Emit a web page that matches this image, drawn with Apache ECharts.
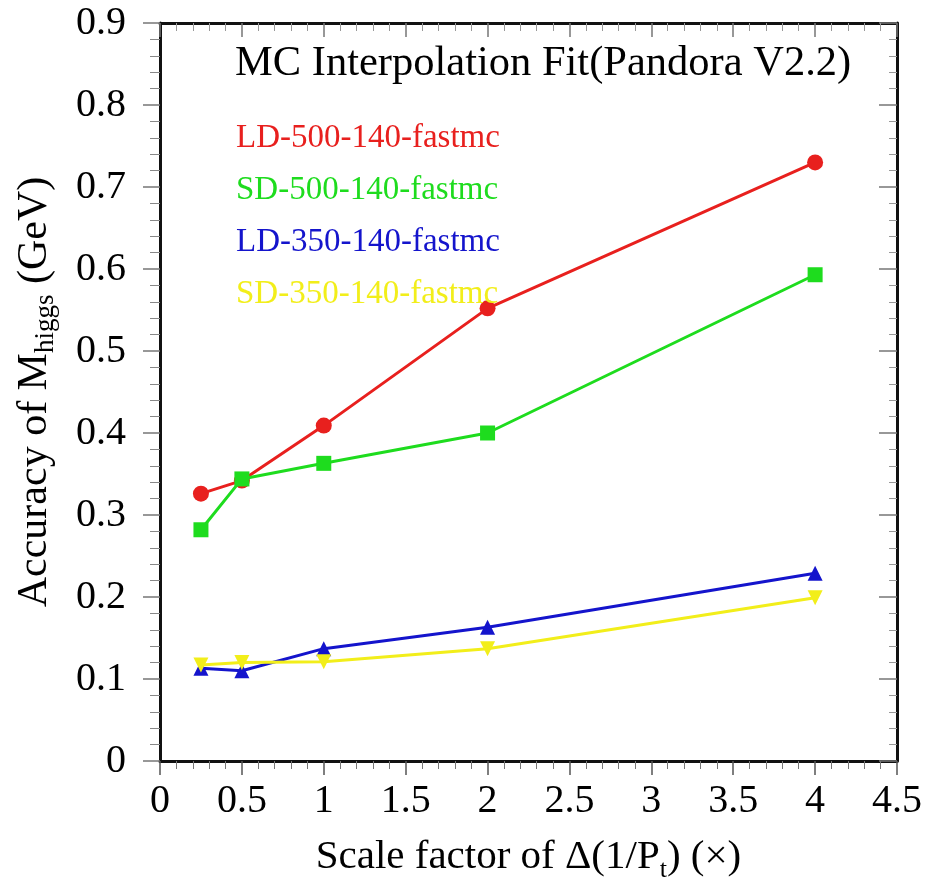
<!DOCTYPE html>
<html>
<head>
<meta charset="utf-8">
<script src="https://cdn.jsdelivr.net/npm/echarts@6/dist/echarts.min.js"></script>
<style>
  html, body { margin: 0; padding: 0; background: #fff; }
  #chart { width: 929px; height: 888px; }
</style>
</head>
<body>
<div id="chart"></div>
<script>
// scale factors on the x axis
var xValues = [0.25, 0.5, 1, 2, 4];
// accuracy of M_higgs (GeV)
var ld500 = [0.326, 0.342, 0.409, 0.552, 0.730];
var sd500 = [0.282, 0.344, 0.363, 0.400, 0.593];
var ld350 = [0.113, 0.110, 0.137, 0.163, 0.229];
var sd350 = [0.117, 0.120, 0.121, 0.137, 0.199];
var seriesNames = ['LD-500-140-fastmc', 'SD-500-140-fastmc', 'LD-350-140-fastmc', 'SD-350-140-fastmc'];
var seriesColors = ['#e8201e', '#1edc1e', '#1414cc', '#f2ee1a'];

var serif = '"Liberation Serif", "DejaVu Serif", serif';
var ink = '#111';

function pairs(ys) {
    return xValues.map(function (x, i) { return [x, ys[i]]; });
}

var myChart = echarts.init(document.getElementById('chart'));

function mkSeries(idx, data, symbol, rotate, size) {
    return {
        name: seriesNames[idx],
        type: 'line',
        data: pairs(data),
        symbol: symbol,
        symbolRotate: rotate,
        symbolSize: size,
        showAllSymbol: true,
        lineStyle: { color: seriesColors[idx], width: 3 },
        itemStyle: { color: seriesColors[idx] },
        z: 3 + idx
    };
}

var option = {
    backgroundColor: '#fff',
    animation: false,
    textStyle: { fontFamily: serif },
    graphic: [{
        type: 'text',
        x: 235,
        y: 64,
        style: {
            text: 'MC Interpolation Fit(Pandora V2.2)',
            font: '42.5px ' + serif,
            fill: '#000',
            textVerticalAlign: 'middle'
        }
    }],
    legend: {
        orient: 'vertical',
        left: 226,
        top: 117,
        itemWidth: 0,
        itemHeight: 0,
        itemGap: 19,
        selectedMode: false,
        data: seriesNames.map(function (n, i) {
            return { name: n, icon: 'rect', textStyle: { color: seriesColors[i], fontSize: 33, fontFamily: serif } };
        })
    },
    grid: {
        left: 160,
        right: 32,
        top: 23,
        bottom: 127,
        containLabel: false,
        outerBoundsMode: 'none'
    },
    xAxis: [{
        type: 'value',
        min: 0,
        max: 4.5,
        interval: 0.5,
        position: 'bottom',
        name: '{a|Scale factor of Δ(1/P}{s|t}{a|) (×)}',
        nameLocation: 'middle',
        nameGap: 76,
        nameTextStyle: {
            rich: {
                a: { fontSize: 41, fontFamily: serif, color: '#000', lineHeight: 42, verticalAlign: 'top' },
                s: { fontSize: 26, fontFamily: serif, color: '#000', lineHeight: 26, padding: [24, 0, 0, 0] }
            }
        },
        axisLine: { show: true, onZero: false, lineStyle: { color: ink, width: 3 } },
        axisTick: { show: true, inside: false, length: 14, lineStyle: { color: '#555', width: 1.5 } },
        minorTick: { show: true, splitNumber: 5, length: 8, lineStyle: { color: '#777', width: 1 } },
        axisLabel: { margin: 20, fontSize: 40, color: '#000', fontFamily: serif },
        splitLine: { show: false }
    }, {
        type: 'value',
        min: 0,
        max: 4.5,
        interval: 0.5,
        position: 'top',
        axisLine: { show: true, onZero: false, lineStyle: { color: ink, width: 3 } },
        axisTick: { show: true, inside: true, length: 14, lineStyle: { color: '#777', width: 1.5 } },
        minorTick: { show: true, splitNumber: 5, length: 8, lineStyle: { color: '#999', width: 1 } },
        axisLabel: { show: false },
        splitLine: { show: false }
    }],
    yAxis: [{
        type: 'value',
        min: 0,
        max: 0.9,
        interval: 0.1,
        position: 'left',
        name: '{a|Accuracy of M}{s|higgs}{a| (GeV)}',
        nameLocation: 'middle',
        nameGap: 104,
        nameTextStyle: {
            rich: {
                a: { fontSize: 42, fontFamily: serif, color: '#000', lineHeight: 42, verticalAlign: 'top' },
                s: { fontSize: 27, fontFamily: serif, color: '#000', lineHeight: 27, padding: [22, 0, 0, 0] }
            }
        },
        axisLine: { show: true, onZero: false, lineStyle: { color: ink, width: 3 } },
        axisTick: { show: true, inside: false, length: 17, lineStyle: { color: '#777', width: 1.5 } },
        minorTick: { show: true, splitNumber: 5, length: 10, lineStyle: { color: '#888', width: 1 } },
        axisLabel: { margin: 34, fontSize: 40, color: '#000', fontFamily: serif },
        splitLine: { show: false }
    }, {
        type: 'value',
        min: 0,
        max: 0.9,
        interval: 0.1,
        position: 'right',
        axisLine: { show: true, onZero: false, lineStyle: { color: ink, width: 3 } },
        axisTick: { show: true, inside: true, length: 18, lineStyle: { color: '#777', width: 1.5 } },
        minorTick: { show: true, splitNumber: 5, length: 8, lineStyle: { color: '#999', width: 1 } },
        axisLabel: { show: false },
        splitLine: { show: false }
    }],
    series: [
        mkSeries(0, ld500, 'circle', 0, 16),
        mkSeries(1, sd500, 'rect', 0, 15),
        mkSeries(2, ld350, 'triangle', 0, 15),
        mkSeries(3, sd350, 'triangle', 180, 15)
    ]
};

myChart.setOption(option);
</script>
</body>
</html>
